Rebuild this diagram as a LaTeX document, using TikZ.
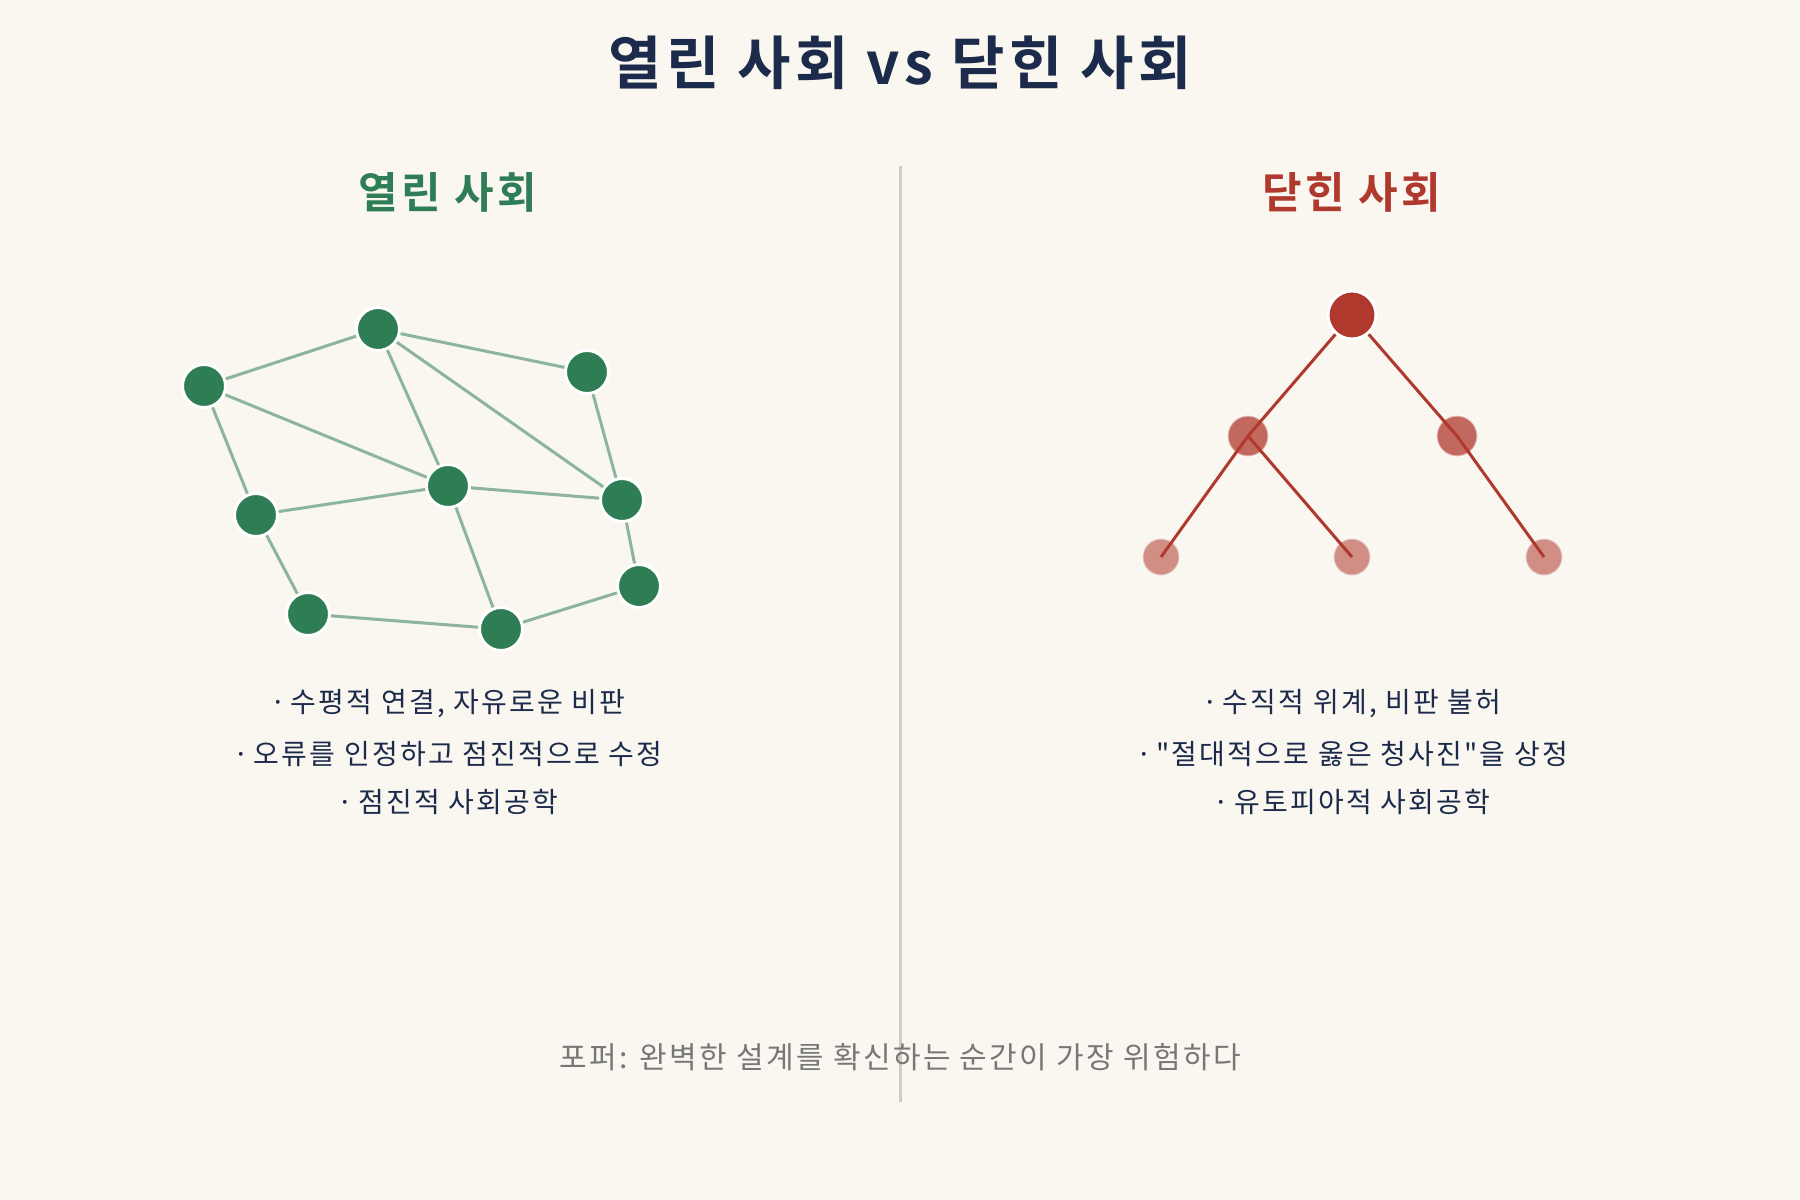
\documentclass[tikz,border=0pt]{standalone}
\usepackage{fontspec}
\newfontfamily\kr{Noto Sans CJK KR}[BoldFont={Noto Sans CJK KR Bold}, LetterSpace=8]
\definecolor{bg}{HTML}{FAF7F0}
\definecolor{navy}{HTML}{1C2B4B}
\definecolor{ogreen}{HTML}{2E7D55}
\definecolor{edgegreen}{HTML}{8DB59D}
\definecolor{cred}{HTML}{B0392E}
\definecolor{divider}{HTML}{D3CEBC}
\definecolor{foot}{HTML}{777777}
\tikzset{
  gnode/.style={circle, fill=ogreen, draw=white, line width=3pt, minimum size=43pt, inner sep=0pt},
  gedge/.style={draw=edgegreen, line width=3pt},
  rroot/.style={circle, fill=cred, draw=white, line width=3pt, minimum size=48pt, inner sep=0pt},
  rmid/.style={circle, fill=cred, fill opacity=0.75, draw=white, draw opacity=0.6, line width=2pt, minimum size=41pt, inner sep=0pt},
  rleaf/.style={circle, fill=cred, fill opacity=0.55, draw=white, draw opacity=0.5, line width=2pt, minimum size=37pt, inner sep=0pt},
  redge/.style={draw=cred, line width=3pt},
  bullet/.style={text=navy, font=\kr\fontsize{28}{32}\selectfont, anchor=center, inner sep=0pt},
}
\begin{document}
\begin{tikzpicture}[x=1pt,y=-1pt]
\fill[bg] (0,0) rectangle (1800,1200);
\useasboundingbox (0,0) rectangle (1800,1200);

% title
\node[text=navy, font=\kr\bfseries\fontsize{58}{64}\selectfont, inner sep=0pt] (title) at (900,63) {열린 사회 vs 닫힌 사회};

% divider
\coordinate (dtop) at (900,166);
\coordinate (dbot) at (900,1102);
\draw[divider, line width=3pt] (dtop) -- (dbot);

% subtitles
\node[text=ogreen, font=\kr\bfseries\fontsize{43}{48}\selectfont, inner sep=0pt] (lhead) at (448,192) {열린 사회};
\node[text=cred, font=\kr\bfseries\fontsize{43}{48}\selectfont, inner sep=0pt] (rhead) at (1352,192) {닫힌 사회};

% open society network
\node[gnode] (A) at (378,329) {};
\node[gnode] (B) at (204,386) {};
\node[gnode] (C) at (587,372) {};
\node[gnode] (D) at (448,486) {};
\node[gnode] (E) at (622,500) {};
\node[gnode] (F) at (256,515) {};
\node[gnode] (G) at (639,586) {};
\node[gnode] (H) at (308,614) {};
\node[gnode] (I) at (501,629) {};
\foreach \a/\b in {A/B,A/C,A/D,A/E,B/D,B/F,C/E,D/F,D/E,D/I,F/H,H/I,I/G,E/G}
  \draw[gedge] (\a) -- (\b);

% closed society hierarchy
\node[rleaf] (LL) at (1161,557) {};
\node[rleaf] (LM) at (1352,557) {};
\node[rleaf] (RR) at (1544,557) {};
\node[rmid] (L) at (1248,436) {};
\node[rmid] (R) at (1457,436) {};
\node[rroot] (root) at (1352,315) {};
\draw[redge] (root) -- (L.center);
\draw[redge] (root) -- (R.center);
\draw[redge] (L.center) -- (LL.center);
\draw[redge] (L.center) -- (LM.center);
\draw[redge] (R.center) -- (RR.center);

% bullets
\node[bullet] (l1) at (448,704) {·\,수평적 연결, 자유로운 비판};
\node[bullet] (l2) at (448,754) {·\,오류를 인정하고 점진적으로 수정};
\node[bullet] (l3) at (448,802) {·\,점진적 사회공학};
\node[bullet] (r1) at (1352,704) {·\,수직적 위계, 비판 불허};
\node[bullet] (r2) at (1352,754) {·\,"절대적으로 옳은 청사진"을 상정};
\node[bullet] (r3) at (1352,802) {·\,유토피아적 사회공학};

% footer
\node[text=foot, font=\kr\fontsize{30}{34}\selectfont, inner sep=0pt] (footer) at (900,1057) {포퍼: 완벽한 설계를 확신하는 순간이 가장 위험하다};
\end{tikzpicture}
\end{document}
